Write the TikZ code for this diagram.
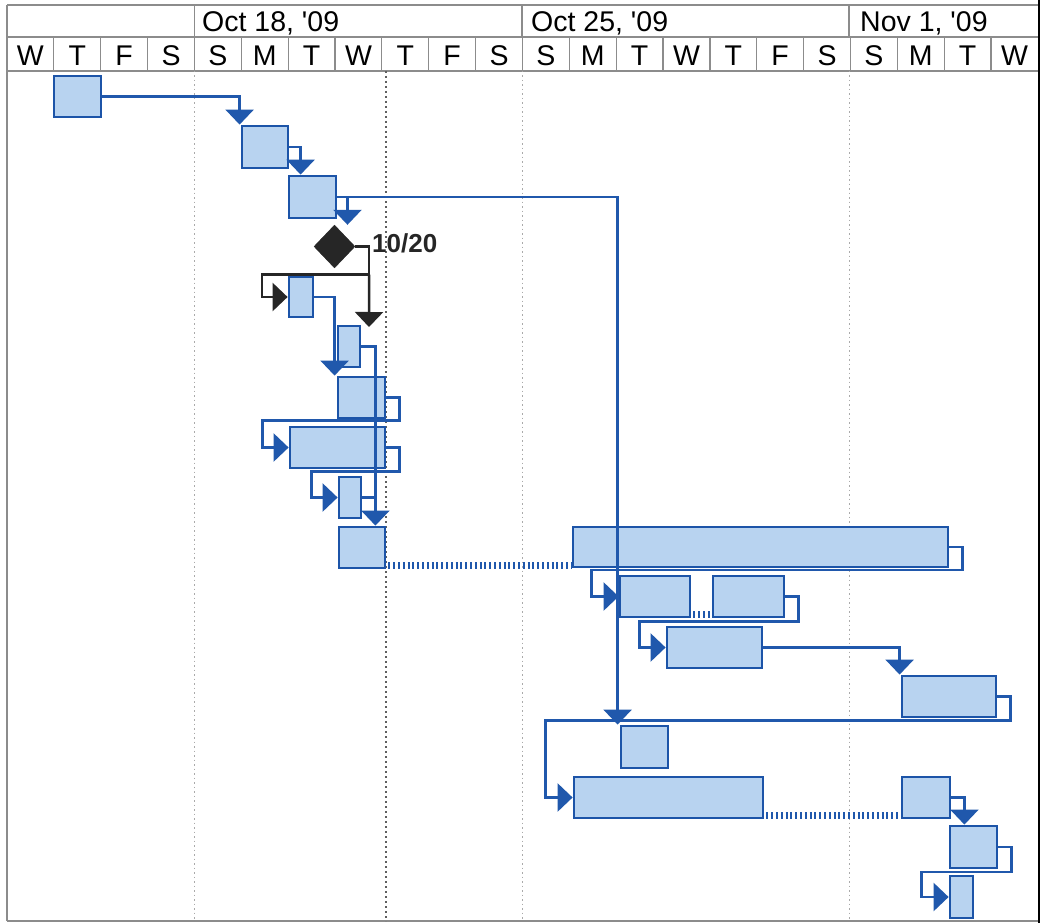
\documentclass[tikz,border=0pt]{standalone}
\usepackage{fontspec}
\setmainfont{Liberation Sans}
\usetikzlibrary{arrows.meta,fit,shapes.geometric,calc}
\font\hdrfont="Liberation Sans" at 28.5pt
\font\msfont="Liberation Sans/B" at 26pt
\definecolor{barfill}{RGB}{184,211,240}
\definecolor{barline}{RGB}{28,84,168}
\definecolor{linkblue}{RGB}{32,88,172}
\definecolor{dark}{RGB}{38,38,38}
\definecolor{gridgray}{RGB}{140,140,140}
\definecolor{weekgray}{RGB}{170,170,170}
\definecolor{todaygray}{RGB}{95,95,95}
\newcommand\gbar[5]{\node[gbar, fit={(#2,#3) (#4,#5)}] (#1) {};}
\begin{document}
\begin{tikzpicture}[x=1pt,y=-1pt,
  gbar/.style={rectangle, draw=barline, line width=2.8pt, fill=barfill, inner sep=0pt},
  link/.style={draw=linkblue, line width=2.4pt, -{Triangle[width=28pt,length=15pt]}},
  plainlink/.style={draw=linkblue, line width=2.4pt},
  mlink/.style={draw=dark, line width=2.4pt, -{Triangle[width=28pt,length=15pt]}},
  split/.style={draw=linkblue, line width=7pt, dash pattern=on 2pt off 2.8pt},
  grid/.style={draw=gridgray, line width=1.2pt},
  weekline/.style={draw=weekgray, line width=1pt, dash pattern=on 1.5pt off 3pt},
  todayline/.style={draw=todaygray, line width=2pt, dash pattern=on 2pt off 3pt},
  day/.style={font=\hdrfont, inner sep=0pt, anchor=base},
  date/.style={font=\hdrfont, inner sep=0pt, anchor=base west}]
\useasboundingbox (0,0) rectangle (1049,923);
\fill[white] (0,0) rectangle (1049,923);
% header grid
\draw[grid] (7,5) -- (1039,5);
\draw[grid] (7,37) -- (1039,37);
\draw[grid] (7,71) -- (1039,71);
\foreach \i in {1,...,21} { \draw[grid] ({7+\i*46.86},37) -- ({7+\i*46.86},71); }
\foreach \xx in {194.4,522.0,849.0} { \draw[grid] (\xx,5) -- (\xx,37); }
\draw[grid] (7,5) -- (7,921);
\draw[grid] (7,921) -- (1039,921);
\draw[black, line width=2.5pt] (1039,0) -- (1039,923);
% week and today lines
\foreach \xx in {194.4,522.0,849.0} { \draw[weekline] (\xx,71) -- (\xx,921); }
\draw[todayline] (386,71) -- (386,921);
% header text
\node[date] (h1) at (202,31.5) {Oct 18, '09};
\node[date] (h2) at (531,31.5) {Oct 25, '09};
\node[date] (h3) at (860,31.5) {Nov 1, '09};
\foreach \l [count=\i] in {W,T,F,S,S,M,T,W,T,F,S,S,M,T,W,T,F,S,S,M,T,W} {
  \node[day] (d\i) at ({7+(\i-0.5)*46.86},66) {\l};
}
% bars
\gbar{b1}{54}{76}{101}{117}
\gbar{b2}{242}{126}{288}{168}
\gbar{b3}{289}{176}{336}{218}
\gbar{b5}{289}{277}{313}{317}
\gbar{b6}{338}{326}{360}{367}
\gbar{b7}{338}{377}{385}{418}
\gbar{b8}{290}{427}{385}{468}
\gbar{b9}{339}{477}{361}{518}
\gbar{b10a}{339}{527}{385}{568}
\gbar{b10b}{573}{527}{948}{567}
\gbar{b11a}{620}{576}{690}{617}
\gbar{b11b}{713}{576}{784}{617}
\gbar{b12}{667}{627}{762}{668}
\gbar{b13}{902}{676}{996}{717}
\gbar{b14}{621}{726}{668}{768}
\gbar{b15a}{574}{777}{763}{818}
\gbar{b15b}{902}{777}{950}{818}
\gbar{b16}{950}{826}{997}{868}
\gbar{b17}{950}{876}{973}{918}
% milestone
\node[diamond, fill=dark, draw=dark, minimum width=41pt, minimum height=43pt, inner sep=0pt] (ms) at (334.5,246.5) {};
\node[font=\msfont, inner sep=0pt, anchor=west, text=dark] (msl) at (372,243) {10/20};
% splits
\draw[split] ([yshift=4pt,xshift=2pt]b10a.south east) -- ([yshift=4pt]b10a.south east -| b10b.west);
\draw[split] ([yshift=4pt,xshift=2pt]b11a.south east) -- ([yshift=4pt]b11a.south east -| b11b.west);
\draw[split] ([yshift=4pt,xshift=2pt]b15a.south east) -- ([yshift=4pt]b15a.south east -| b15b.west);
% links
\draw[link] (b1.east) -| ([xshift=-1pt]b2.north west);
\draw[link] (b2.east) -| ([xshift=13pt]b3.north west);
\draw[link] (b3.east) -| ([xshift=13pt]ms.north);
\draw[link] (b3.east) -| ([xshift=-2pt]b14.north west);
\coordinate (mt) at (369,327);
\draw[mlink] (ms.east) -- ++(14,0) -- ++(0,28) coordinate (mk) -- ++(-107,0) |- (b5.west);
\draw[mlink] (mk) -- (mt);
\draw[link] (b5.east) -| ([xshift=-2pt]b7.north west);
\draw[link] (b6.east) -| ($(b6.east |- b10a.north)+(14,0)$);
\draw[link] (b7.east) -- ++(13,0) -- ++(0,23) -| ($(b8.west)+(-26,0)$) -- (b8.west);
\draw[link] (b8.east) -- ++(13,0) -- ++(0,24) -| ($(b9.west)+(-26,0)$) -- (b9.west);
\draw[plainlink] (b9.east) -- ++(13,0);
\draw[link] (b10b.east) -- ++(13,0) -- ++(0,23) -| ($(b11a.west)+(-27,0)$) -- (b11a.west);
\draw[link] (b11b.east) -- ++(13,0) -- ++(0,25) -| ($(b12.west)+(-26,0)$) -- (b12.west);
\draw[link] (b12.east) -| ([xshift=-1pt]b13.north west);
\draw[link] (b13.east) -- ++(13,0) -- ++(0,24) -| ($(b15a.west)+(-27,0)$) -- (b15a.west);
\draw[link] (b15b.east) -| ($(b15b.east |- b16.north)+(13,0)$);
\draw[link] (b16.east) -- ++(13,0) -- ++(0,25) -| ($(b17.west)+(-27,0)$) -- (b17.west);
\end{tikzpicture}
\end{document}
